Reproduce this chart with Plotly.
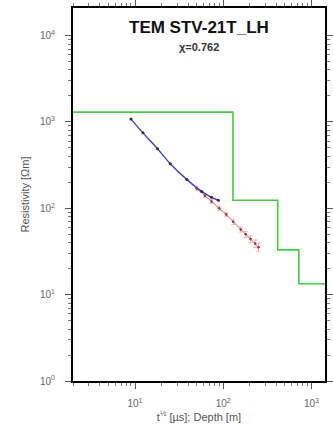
import plotly.graph_objects as go

# Layered model: resistivity per layer and depth of layer boundaries
layer_rho = [1300, 124, 33, 13.4]
layer_bottom = [129, 415, 720]

# Early-time sounding data and model response
t_early = [9.0, 12.3, 18.0, 25.1, 38.8, 57.0, 73.6, 88.0]
rho_early = [1080, 748, 490, 329, 215, 157, 134, 124]

# Late-time sounding data
t_late = [50, 62, 73.6, 90, 108, 130, 158, 180, 204, 230, 251]
rho_late = [170, 140, 120, 100, 85, 70, 57, 50, 44, 39, 35.5]
err_late = [8, 7, 6, 6, 5, 5, 4, 4, 4, 4, 4]

x_ticks = [10, 100, 1000]
x_labels = ["10<sup>1</sup>", "10<sup>2</sup>", "10<sup>3</sup>"]
y_ticks = [1, 10, 100, 1000, 10000]
y_labels = ["10<sup>0</sup>", "10<sup>1</sup>", "10<sup>2</sup>", "10<sup>3</sup>", "10<sup>4</sup>"]

step_x = [1] + layer_bottom + [3000]
step_y = layer_rho + [layer_rho[-1]]

fig = go.Figure()
fig.add_trace(go.Scatter(x=step_x, y=step_y, mode="lines", line_shape="hv",
                         line=dict(color="#45cc45", width=1.6), hoverinfo="skip"))
fig.add_trace(go.Scatter(x=t_late, y=rho_late, mode="lines+markers",
                         line=dict(color="#e86060", width=1),
                         marker=dict(size=2.5, color="#8a3040"),
                         error_y=dict(type="data", array=err_late, color="#f4a0a0",
                                      thickness=0.8, width=2)))
fig.add_trace(go.Scatter(x=t_early, y=rho_early, mode="lines",
                         line=dict(color="#4040c0", width=1.4, shape="spline")))
fig.add_trace(go.Scatter(x=t_early, y=rho_early, mode="markers",
                         marker=dict(size=3, color="#2a2a4a")))

# minor log ticks between decades
minor_vals = [m * 10 ** e for e in range(0, 4) for m in range(2, 10)]

axis_common = dict(type="log", showgrid=False, zeroline=False, showline=True,
                   linecolor="black", linewidth=2, mirror="ticks", ticks="outside",
                   ticklen=6, tickcolor="#555", tickwidth=1,
                   tickfont=dict(family="Liberation Sans", size=10, color="#666"),
                   minor=dict(tickmode="array", tickvals=minor_vals, ticks="outside",
                              ticklen=3, tickcolor="#777"))

fig.update_layout(
    width=333, height=441,
    margin=dict(l=73, r=0, t=5, b=60),
    paper_bgcolor="white", plot_bgcolor="white",
    showlegend=False,
    font=dict(family="Liberation Sans", color="#555"),
    xaxis=dict(axis_common, range=[0.297, 3.154], tickvals=x_ticks, ticktext=x_labels,
               ticklabelstandoff=6,
               title=dict(text="t<sup>½</sup> [µs]; Depth [m]", font=dict(size=11, color="#555"),
                          standoff=4)),
    yaxis=dict(axis_common, range=[0, 4.32], tickvals=y_ticks, ticktext=y_labels,
               ticklabelstandoff=8,
               title=dict(text="Resistivity [Ωm]", font=dict(size=11, color="#555"),
                          standoff=8)),
    annotations=[
        dict(text="<b>TEM STV-21T_LH</b>", x=0.5, y=0.978, xref="paper", yref="paper",
             xanchor="center", yanchor="top", showarrow=False,
             font=dict(family="Liberation Sans", size=17, color="#111")),
        dict(text="<b>χ=0.762</b>", x=0.5, y=0.918, xref="paper", yref="paper",
             xanchor="center", yanchor="top", showarrow=False,
             font=dict(family="Liberation Sans", size=11, color="#333")),
    ],
)

fig.write_html("out.html")
